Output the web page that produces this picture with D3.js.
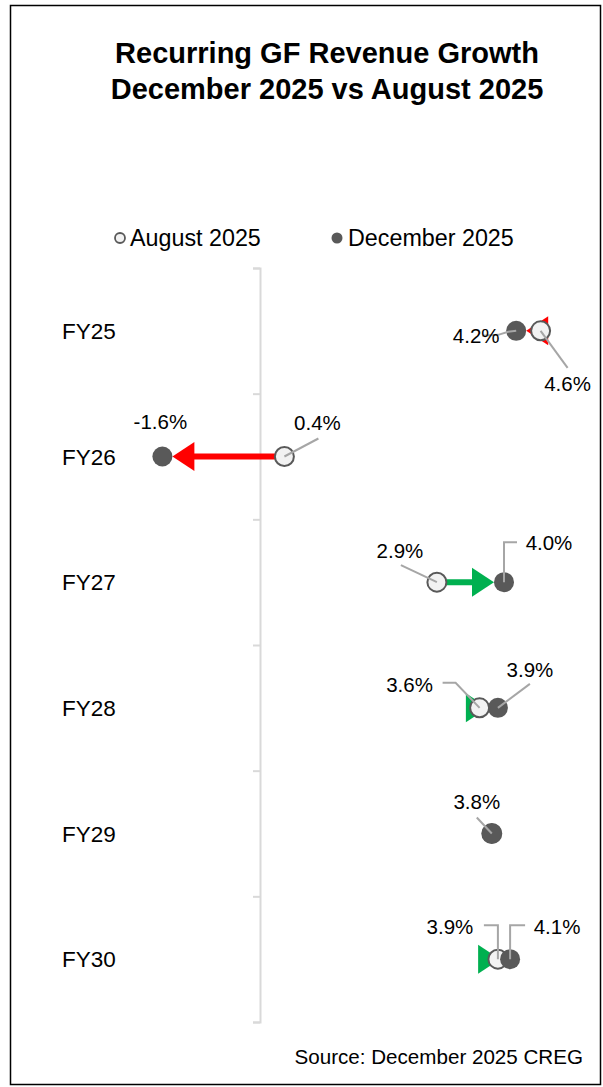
<!DOCTYPE html>
<html><head><meta charset="utf-8">
<script src="https://cdn.jsdelivr.net/npm/d3@7"></script>
<style>body{margin:0;background:#fff}svg{display:block}text{font-family:"Liberation Sans",Arial,sans-serif}</style>
</head><body><div id="chart"></div>
<script>
const categories = ["FY25","FY26","FY27","FY28","FY29","FY30"];
const august2025 = [4.6, 0.4, 2.9, 3.6, 3.8, 3.9];
const december2025 = [4.2, -1.6, 4.0, 3.9, 3.8, 4.1];
const seriesNames = ["August 2025","December 2025"];
const titleLines = ["Recurring GF Revenue Growth","December 2025 vs August 2025"];
const sourceText = "Source: December 2025 CREG";
const showAugLabel = [true,true,true,true,false,true];

const W=603,H=1087;
const svg=d3.select("#chart").append("svg").attr("width",W).attr("height",H);
svg.append("rect").attr("x",10.5).attr("y",5.5).attr("width",590).attr("height",1079).attr("fill","#fff").attr("stroke","#000").attr("stroke-width",1.5);

svg.selectAll("text.title").data(titleLines).join("text").attr("class","title")
  .attr("x",327).attr("y",(d,i)=>63+i*36).attr("text-anchor","middle")
  .attr("font-size",29).attr("font-weight","bold").attr("fill","#000").text(d=>d);

const x=d3.scaleLinear().domain([-3,5]).range([77,565]);
const yB=d3.scaleBand().domain(categories).range([268,1022]).padding(0);
const yc=c=>yB(c)+yB.bandwidth()/2;
const yTicks=d3.scaleLinear().domain([0,categories.length]).range([268,1022]);

// axis
const ax=svg.append("g").attr("transform",`translate(${x(0)},0)`)
  .call(d3.axisLeft(yTicks).ticks(categories.length).tickSize(7).tickSizeOuter(7).tickFormat(""));
ax.selectAll("path,line").attr("stroke","#d9d9d9").attr("stroke-width",2);

// category labels
svg.selectAll("text.cat").data(categories).join("text").attr("class","cat")
  .attr("x",62).attr("y",d=>yc(d)+8).attr("font-size",22.5).attr("fill","#000").text(d=>d);

// legend
svg.append("circle").attr("cx",120).attr("cy",238).attr("r",5).attr("fill","#f2f2f2").attr("stroke","#595959").attr("stroke-width",1.8);
svg.append("text").attr("x",130).attr("y",246).attr("font-size",23.3).text(seriesNames[0]);
svg.append("circle").attr("cx",337).attr("cy",238).attr("r",5.5).attr("fill","#595959");
svg.append("text").attr("x",348).attr("y",246).attr("font-size",23.3).text(seriesNames[1]);

const R=10, headLen=22, headHalf=14.5;
// arrows
categories.forEach((c,i)=>{
  const a=august2025[i], d=december2025[i];
  if(a===d) return;
  const xa=x(a), xd=x(d), y=yc(c);
  const dir=Math.sign(xd-xa);
  const col=dir>0?"#00b050":"#ff0000";
  const tip=xd-dir*R, base=tip-dir*headLen;
  if((base-xa)*dir>0){
    svg.append("line").attr("x1",xa).attr("x2",base+dir*1).attr("y1",y).attr("y2",y).attr("stroke",col).attr("stroke-width",6);
  }
  svg.append("path").attr("d",`M${tip},${y}L${base},${y-headHalf}L${base},${y+headHalf}Z`).attr("fill",col);
});

// points; draw order per row
const augOnTop=[true,false,false,true,false,false];
const drawAug=(i)=>svg.append("circle").attr("cx",x(august2025[i])).attr("cy",yc(categories[i])).attr("r",9.5).attr("fill","#f2f2f2").attr("stroke","#595959").attr("stroke-width",2);
const drawDec=(i)=>svg.append("circle").attr("cx",x(december2025[i])).attr("cy",yc(categories[i])).attr("r",R).attr("fill","#595959");
categories.forEach((c,i)=>{ if(augOnTop[i]){drawDec(i);drawAug(i);} else {drawAug(i);drawDec(i);} });

// labels: offsets of label centre and leader path relative to point
const augLab=[{dx:27,dy:53,lead:[[27,37],[0,0]]},{dx:33,dy:-34,lead:[[34,-18],[0,0]]},{dx:-37,dy:-31,lead:[[-36,-17],[0,0]]},{dx:-70,dy:-23,lead:[[-37,-25],[-24,-25],[0,0]]},null,{dx:-48,dy:-32,lead:[[-14,-34],[0,-34],[0,0]]}];
const decLab=[{dx:-40,dy:5,lead:[[-34,5],[-18,4],[-8,1],[0,0]]},{dx:-2,dy:-35,lead:null},{dx:45,dy:-39,lead:[[13,-40],[0,-40],[0,0]]},{dx:32,dy:-38,lead:[[32,-24],[0,0]]},{dx:-15,dy:-32,lead:[[-15,-16],[0,0]]},{dx:47,dy:-32,lead:[[15,-34],[0,-34],[0,0]]}];
const fmt=v=>d3.format(".1f")(v).replace("\u2212","-")+"%";
const line=d3.line();
function lab(v,i,L){
  if(!L) return;
  const px=x(v), py=yc(categories[i]);
  if(L.lead) svg.append("path").attr("d",line(L.lead.map(p=>[px+p[0],py+p[1]]))).attr("fill","none").attr("stroke","#a6a6a6").attr("stroke-width",2);
  svg.append("text").attr("x",px+L.dx).attr("y",py+L.dy+7).attr("text-anchor","middle").attr("font-size",20.5).attr("fill","#000").text(fmt(v));
}
categories.forEach((c,i)=>{ if(showAugLabel[i]) lab(august2025[i],i,augLab[i]); lab(december2025[i],i,decLab[i]); });

svg.append("text").attr("x",583).attr("y",1064).attr("text-anchor","end").attr("font-size",20.6).text(sourceText);
</script></body></html>
